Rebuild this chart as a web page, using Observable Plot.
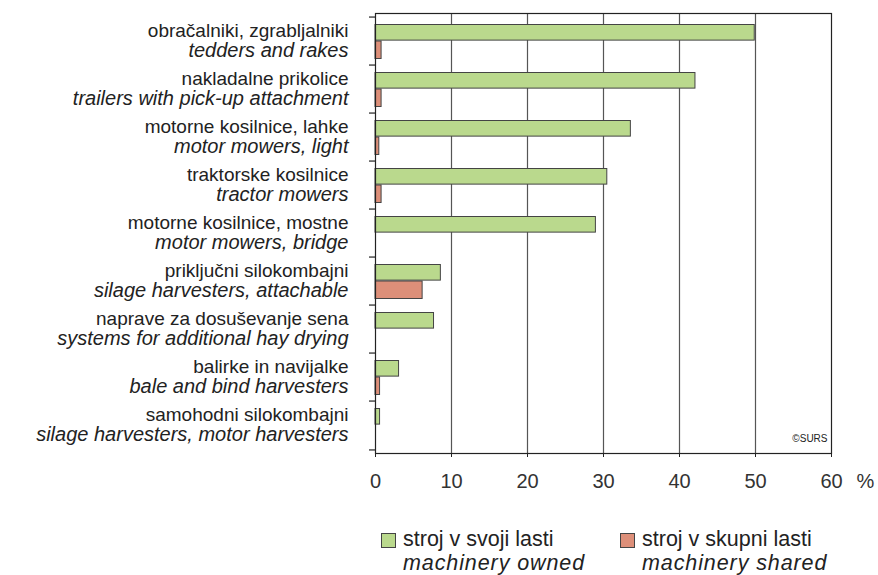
<!DOCTYPE html>
<html>
<head>
<meta charset="utf-8">
<script src="https://cdn.jsdelivr.net/npm/d3@7"></script>
<script src="https://cdn.jsdelivr.net/npm/@observablehq/plot@0.6"></script>
<style>
  body { margin: 0; background: #fff; font-family: "Liberation Sans", Arial, sans-serif; }
  #wrap { position: relative; width: 878px; height: 575px; }
  .leg { position: absolute; font-size: 21.5px; color: #222; line-height: 24px; white-space: nowrap; }
  .sw { position: absolute; width: 13px; height: 13px; border: 1px solid #444; }
  .it { font-style: italic; letter-spacing: 0.9px; }
</style>
</head>
<body>
<div id="wrap"></div>
<script>
const categoriesSl = [
  "obračalniki, zgrabljalniki",
  "nakladalne prikolice",
  "motorne kosilnice, lahke",
  "traktorske kosilnice",
  "motorne kosilnice, mostne",
  "priključni silokombajni",
  "naprave za dosuševanje sena",
  "balirke in navijalke",
  "samohodni silokombajni"
];
const categoriesEn = [
  "tedders and rakes",
  "trailers with pick-up attachment",
  "motor mowers, light",
  "tractor mowers",
  "motor mowers, bridge",
  "silage harvesters, attachable",
  "systems for additional hay drying",
  "bale and bind harvesters",
  "silage harvesters, motor harvesters"
];
const owned  = [49.9, 42.1, 33.6, 30.5, 29.0, 8.6, 7.7, 3.1, 0.6];
const shared = [0.8, 0.8, 0.5, 0.8, 0, 6.2, 0, 0.6, 0];
const xTicks = [0, 10, 20, 30, 40, 50, 60];

const rows = categoriesSl.map((c, i) => ({cat: c, en: categoriesEn[i], owned: owned[i], shared: shared[i]}));

const W = 878, H = 500, mt = 13, mb = 47, ml = 375, mr = 47;
const bw = (H - mt - mb) / categoriesSl.length;
const green = "#bad98d", red = "#dd8f79";

const chart = Plot.plot({
  width: W, height: H,
  marginTop: mt, marginBottom: mb, marginLeft: ml, marginRight: mr,
  style: {fontFamily: "Liberation Sans, Arial, sans-serif", color: "#222", background: "white"},
  x: {domain: [0, 60], ticks: xTicks, label: null},
  y: {domain: categoriesSl, padding: 0, axis: null},
  marks: [
    Plot.ruleX(xTicks.filter(d => d > 0 && d < 60), {stroke: "#555", strokeWidth: 1.2}),
    Plot.barX(rows, {y: "cat", x: "owned", fill: green, stroke: "#444", strokeWidth: 1, insetTop: 7.5, insetBottom: bw - 24}),
    Plot.barX(rows.filter(d => d.shared > 0), {y: "cat", x: "shared", fill: red, stroke: "#444", strokeWidth: 1, insetTop: 24, insetBottom: 6.5}),
    Plot.frame({stroke: "#222", strokeWidth: 1.2}),
    Plot.axisX({ticks: xTicks, tickSize: 4, tickPadding: 16, fontSize: 20, label: null, stroke: "#222", fill: "#333"}),
    Plot.ruleY(categoriesSl, {y: d => d, x1: -6 / 7.6, x2: 0, dy: -bw / 2, stroke: "#222", strokeWidth: 1.2}),
    Plot.ruleY([categoriesSl[categoriesSl.length - 1]], {y: d => d, x1: -6 / 7.6, x2: 0, dy: bw / 2, stroke: "#222", strokeWidth: 1.2}),
    Plot.text(rows, {y: "cat", x: 0, text: "cat", dx: -27, dy: -11, textAnchor: "end", fontSize: 19, fill: "#222"}),
    Plot.text(rows, {y: "cat", x: 0, text: "en", dx: -27, dy: 9.5, textAnchor: "end", fontSize: 20, fontStyle: "italic", fill: "#222"}),
    Plot.text(["%"], {x: 60, frameAnchor: "bottom", dx: 34, dy: 34, fontSize: 20, fill: "#333"}),
    Plot.text(["©SURS"], {x: 60, frameAnchor: "bottom", dx: -4, dy: -12, textAnchor: "end", fontSize: 10, fill: "#222"})
  ]
});

const wrap = document.getElementById("wrap");
wrap.appendChild(chart);

const legendItems = [
  {sl: "stroj v svoji lasti", en: "machinery owned", color: green, x: 381},
  {sl: "stroj v skupni lasti", en: "machinery shared", color: red, x: 620}
];
for (const it of legendItems) {
  const sw = document.createElement("div");
  sw.className = "sw";
  sw.style.left = it.x + "px";
  sw.style.top = "533px";
  sw.style.background = it.color;
  wrap.appendChild(sw);
  const t = document.createElement("div");
  t.className = "leg";
  t.style.left = (it.x + 22) + "px";
  t.style.top = "527px";
  t.innerHTML = `<div>${it.sl}</div><div class="it">${it.en}</div>`;
  wrap.appendChild(t);
}
</script>
</body>
</html>
